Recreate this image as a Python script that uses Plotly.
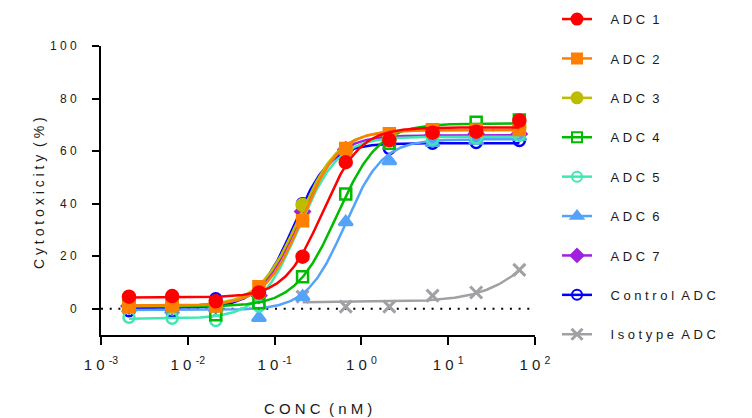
import numpy as np
import plotly.graph_objects as go

NB = "\u00a0"
THIN = "\u2009"

def spaced(s):
    # letter-spaced text as drawn in the reference
    return NB.join(list(s))

# ---------------- data ----------------
conc = [0.0021, 0.0066, 0.021, 0.066, 0.21, 0.66, 2.1, 6.6, 21, 66]
iso_conc = [0.21, 0.66, 2.1, 6.6, 21, 66]

adc1 = [4.6, 4.8, 2.8, 6.2, 19.8, 55.8, 64.2, 67.0, 67.4, 71.6]
adc2 = [0.8, 1.2, 1.0, 8.4, 33.5, 61.0, 66.6, 67.8, 68.0, 68.2]
adc3 = [1.2, 1.0, 1.5, 6.0, 39.5, 60.8, 66.0, 67.0, 67.5, 69.0]
adc4 = [1.5, 1.2, -2.3, 2.3, 12.2, 43.7, 63.0, 68.0, 71.0, 71.8]
adc5 = [-3.2, -3.6, -4.5, 1.0, 34.0, 60.0, 64.0, 64.5, 65.0, 66.0]
adc6 = [0.0, -0.5, 0.2, -3.4, 4.6, 33.0, 56.2, 63.2, 64.0, 65.5]
adc7 = [1.0, 0.8, 1.2, 5.0, 37.0, 60.5, 65.0, 66.0, 66.5, 66.5]
control = [-0.8, -1.0, 3.8, 5.2, 40.0, 60.0, 61.0, 63.0, 63.3, 64.0]
isotype = [4.6, 0.8, 0.8, 5.0, 6.2, 14.8]

names = ["ADC 1", "ADC 2", "ADC 3", "ADC 4", "ADC 5", "ADC 6", "ADC 7", "Control ADC", "Isotype ADC"]
# 4PL fit parameters: bottom, top, logEC50, hill
fit_bottom = [4.3, 1.2, 1.0, 0.8, -3.8, -0.5, 1.0, 0.3, 2.5]
fit_top = [69.0, 68.0, 68.0, 70.5, 65.5, 64.5, 66.0, 63.0, 50.0]
fit_logec50 = [-0.45, -0.68, -0.72, -0.28, -0.72, -0.19, -0.72, -0.78, 2.18]
fit_hill = [2.0, 2.0, 1.9, 1.8, 1.9, 2.0, 2.0, 2.1, 1.3]

x_tickvals = [1e-3, 1e-2, 1e-1, 1e0, 1e1, 1e2]
x_exponents = ["-3", "-2", "-1", "0", "1", "2"]
y_tickvals = [0, 20, 40, 60, 80, 100]
y_ticktext = ["0", "2 0", "4 0", "6 0", "8 0", "1 0 0"]

x_ticktext = ["1" + NB + "0" + NB + "<sup>" + e + "</sup>" for e in x_exponents]

# ---------------- styles ----------------
colors = ["#FF0000", "#FF7F00", "#BDBD00", "#00BB00", "#3FE8B0", "#55A2FA", "#A020E0", "#0000FF", "#A0A0A5"]
symbols = ["circle", "square", "circle", "square-open", "circle-open", "triangle-up", "diamond", "circle-open", "x-thin-open"]
msizes = [12, 11, 12, 11, 11, 12, 11, 11, 12]
lsizes = [11, 10, 11, 10, 10, 11, 10, 10, 11]

xs_list = [conc] * 8 + [iso_conc]
ys_list = [adc1, adc2, adc3, adc4, adc5, adc6, adc7, control, isotype]

FONT = "Liberation Sans, Arial, sans-serif"
TXT = "#1a1a1a"

fig = go.Figure()

def fourpl(x, b, t, le, h):
    return b + (t - b) / (1 + 10 ** ((le - np.log10(x)) * h))

# draw in reverse order so ADC 1 ends on top
for i in reversed(range(len(names))):
    xs = xs_list[i]
    xc = np.logspace(np.log10(xs[0]), np.log10(xs[-1]), 300)
    yc = fourpl(xc, fit_bottom[i], fit_top[i], fit_logec50[i], fit_hill[i])
    fig.add_trace(go.Scatter(x=xc, y=yc, mode="lines", line=dict(color=colors[i], width=2.5),
                             showlegend=False, hoverinfo="skip"))
    mline = dict(color=colors[i], width=2.5 if symbols[i] != "x-thin-open" else 3)
    fig.add_trace(go.Scatter(x=xs, y=ys_list[i], mode="markers",
                             marker=dict(symbol=symbols[i], size=msizes[i], color=colors[i], line=mline),
                             showlegend=False))

# legend entries
for i in range(len(names)):
    mline = dict(color=colors[i], width=2 if symbols[i] != "x-thin-open" else 3)
    label = NB * 3 + THIN + spaced(names[i]).replace(NB + " " + NB, NB * 2)
    fig.add_trace(go.Scatter(x=[None], y=[None], mode="lines+markers", name=label,
                             line=dict(color=colors[i], width=2.5),
                             marker=dict(symbol=symbols[i], size=lsizes[i], color=colors[i], line=mline),
                             legendgroup="g%d" % i))

fig.add_shape(type="line", xref="paper", x0=0, x1=1, yref="y", y0=0, y1=0,
              line=dict(color="black", width=2, dash="2px,6.7px"), layer="below")

W, H = 744, 410
fig.update_layout(
    width=W, height=H,
    margin=dict(l=93, r=217, t=38, b=83, autoexpand=False),
    paper_bgcolor="white", plot_bgcolor="white",
    font=dict(family=FONT, color=TXT),
    showlegend=True,
    legend=dict(xref="container", yref="paper", x=549 / W, xanchor="left",
                y=1.145, yanchor="top", maxheight=H,
                font=dict(size=13, family=FONT, color=TXT),
                traceorder="grouped", tracegroupgap=19.5, bgcolor="rgba(0,0,0,0)"),
    xaxis=dict(type="log", range=[-3, 2], showgrid=False, zeroline=False,
               showline=True, linecolor="black", linewidth=2,
               ticks="outside", ticklen=8, tickwidth=2, tickcolor="black",
               tickmode="array", tickvals=x_tickvals, ticktext=x_ticktext,
               tickfont=dict(family=FONT, size=15, color=TXT),
               ticklabelstandoff=7),
    yaxis=dict(range=[-10, 100], showgrid=False, zeroline=False,
               showline=True, linecolor="black", linewidth=2,
               ticks="outside", ticklen=7, tickwidth=2, tickcolor="black",
               tickvals=y_tickvals, ticktext=[t.replace(" ", NB) for t in y_ticktext],
               tickfont=dict(family=FONT, size=12, color=TXT),
               ticklabelstandoff=13),
    annotations=[
        dict(text=spaced("Cytotoxicity") + NB * 2 + spaced("(%)"), xref="paper", yref="paper",
             x=-0.143, y=0.491, textangle=-90, showarrow=False,
             font=dict(size=14, family=FONT, color=TXT),
             xanchor="center", yanchor="middle"),
        dict(text=spaced("CONC") + NB * 2 + spaced("(nM)"), xref="paper", yref="paper",
             x=0.5, y=-0.2526, showarrow=False,
             font=dict(size=15, family=FONT, color=TXT),
             xanchor="center", yanchor="middle"),
    ],
)

fig.write_html("out.html")
